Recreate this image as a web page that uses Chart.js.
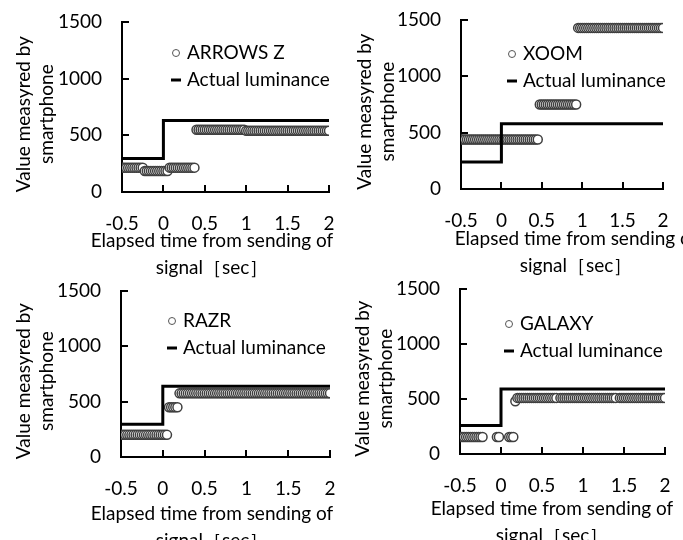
<!DOCTYPE html>
<html>
<head>
<meta charset="utf-8">
<script src="https://cdn.jsdelivr.net/npm/chart.js@4.4.0/dist/chart.umd.min.js"></script>
<style>
    html, body { margin: 0; padding: 0; background: #fff; overflow: hidden; }
    canvas { position: absolute; }
</style>
</head>
<body>
<canvas id="c1"></canvas>
<canvas id="c2"></canvas>
<canvas id="c3"></canvas>
<canvas id="c4"></canvas>
<script>
// Sample times (sec), shared by all four phones
const TIME = [
    -0.5, -0.475, -0.45, -0.425, -0.4, -0.375, -0.35, -0.325, -0.3, -0.275,
    -0.25, -0.225, -0.2, -0.175, -0.15, -0.125, -0.1, -0.075, -0.05, -0.025,
    0, 0.025, 0.05, 0.075, 0.1, 0.125, 0.15, 0.175, 0.2, 0.225,
    0.25, 0.275, 0.3, 0.325, 0.35, 0.375, 0.4, 0.425, 0.45, 0.475,
    0.5, 0.525, 0.55, 0.575, 0.6, 0.625, 0.65, 0.675, 0.7, 0.725,
    0.75, 0.775, 0.8, 0.825, 0.85, 0.875, 0.9, 0.925, 0.95, 0.975,
    1, 1.025, 1.05, 1.075, 1.1, 1.125, 1.15, 1.175, 1.2, 1.225,
    1.25, 1.275, 1.3, 1.325, 1.35, 1.375, 1.4, 1.425, 1.45, 1.475,
    1.5, 1.525, 1.55, 1.575, 1.6, 1.625, 1.65, 1.675, 1.7, 1.725,
    1.75, 1.775, 1.8, 1.825, 1.85, 1.875, 1.9, 1.925, 1.95, 1.975,
    2
];

// Values measured by each smartphone (null = no sample)
const ARROWS_Z = [
    215, 215, 215, 215, 215, 215, 215, 215, 215, 215,
    215, 185, 185, 185, 185, 185, 185, 185, 185, 185,
    185, 185, 185, 215, 215, 215, 215, 215, 215, 215,
    215, 215, 215, 215, 215, 215, 550, 550, 550, 550,
    550, 550, 550, 550, 550, 550, 550, 550, 550, 550,
    550, 550, 550, 550, 550, 550, 550, 550, 550, 550,
    540, 540, 540, 540, 540, 540, 540, 540, 540, 540,
    540, 540, 540, 540, 540, 540, 540, 540, 540, 540,
    540, 540, 540, 540, 540, 540, 540, 540, 540, 540,
    540, 540, 540, 540, 540, 540, 540, 540, 540, 540,
    540
];
const XOOM = [
    440, 440, 440, 440, 440, 440, 440, 440, 440, 440,
    440, 440, 440, 440, 440, 440, 440, 440, 440, 440,
    440, 440, 440, 440, 440, 440, 440, 440, 440, 440,
    440, 440, 440, 440, 440, 440, 440, 440, 440, 750,
    750, 750, 750, 750, 750, 750, 750, 750, 750, 750,
    750, 750, 750, 750, 750, 750, 750, 750, 1430, 1430,
    1430, 1430, 1430, 1430, 1430, 1430, 1430, 1430, 1430, 1430,
    1430, 1430, 1430, 1430, 1430, 1430, 1430, 1430, 1430, 1430,
    1430, 1430, 1430, 1430, 1430, 1430, 1430, 1430, 1430, 1430,
    1430, 1430, 1430, 1430, 1430, 1430, 1430, 1430, 1430, 1430,
    1430
];
const RAZR = [
    200, 200, 200, 200, 200, 200, 200, 200, 200, 200,
    200, 200, 200, 200, 200, 200, 200, 200, 200, 200,
    200, 200, 200, 450, 450, 450, 450, 450, 575, 575,
    575, 575, 575, 575, 575, 575, 575, 575, 575, 575,
    575, 575, 575, 575, 575, 575, 575, 575, 575, 575,
    575, 575, 575, 575, 575, 575, 575, 575, 575, 575,
    575, 575, 575, 575, 575, 575, 575, 575, 575, 575,
    575, 575, 575, 575, 575, 575, 575, 575, 575, 575,
    575, 575, 575, 575, 575, 575, 575, 575, 575, 575,
    575, 575, 575, 575, 575, 575, 575, 575, 575, 575,
    575
];
const GALAXY = [
    155, 155, 155, 155, 155, 155, 155, 155, 155, 155,
    155, 155, null, null, null, null, null, null, 155, 155,
    null, null, null, null, 155, 155, 155, 480, 510, 510,
    510, 510, 510, 510, 510, 510, 510, 510, 510, 510,
    510, 510, 510, 510, 510, 510, 510, 510, null, 510,
    510, 510, 510, 510, 510, 510, 510, 510, 510, 510,
    510, 510, 510, 510, 510, 510, 510, 510, 510, 510,
    510, 510, 510, 510, 510, 510, 510, null, 510, 510,
    510, 510, 510, 510, 510, 510, 510, 510, 510, 510,
    510, 510, 510, 510, 510, 510, 510, 510, 510, 510,
    510
];

// Actual luminance (step at t = 0)
const STEP_TIME = [-0.5, 0, 0, 2];
const ARROWS_Z_ACTUAL = [295, 295, 630, 630];
const XOOM_ACTUAL = [240, 240, 580, 580];
const RAZR_ACTUAL = [295, 295, 640, 640];
const GALAXY_ACTUAL = [260, 260, 590, 590];

const X_TICKS = [-0.5, 0, 0.5, 1, 1.5, 2];
const Y_TICKS = [0, 500, 1000, 1500];
const X_TITLE = ['Elapsed time from sending of', 'signal［sec］'];
const Y_TITLE = ['Value measyred by\u2003', 'smartphone\u2003'];
const LINE_LABEL = 'Actual luminance';

// Panel layout (canvas box, wanted plot area inside the canvas, title and legend spots)
const PANELS = [
    { id: 'c1', name: 'ARROWS Z', values: ARROWS_Z, actual: ARROWS_Z_ACTUAL,
      box: { left: 0, top: 0, w: 341, h: 290 }, area: { l: 122, r: 329, t: 22, b: 192 },
      xTitle: { x: 212, y: 241 }, yTitleX: 24, legend: { x: 54, y: 31 } },
    { id: 'c2', name: 'XOOM', values: XOOM, actual: XOOM_ACTUAL,
      box: { left: 341, top: 0, w: 342, h: 290 }, area: { l: 120, r: 322, t: 20, b: 189 },
      xTitle: { x: 235, y: 239 }, yTitleX: 24, legend: { x: 51, y: 34 } },
    { id: 'c3', name: 'RAZR', values: RAZR, actual: RAZR_ACTUAL,
      box: { left: 0, top: 270, w: 341, h: 290 }, area: { l: 121, r: 330, t: 21, b: 187 },
      xTitle: { x: 212, y: 244 }, yTitleX: 24, legend: { x: 51, y: 30 } },
    { id: 'c4', name: 'GALAXY', values: GALAXY, actual: GALAXY_ACTUAL,
      box: { left: 341, top: 270, w: 342, h: 290 }, area: { l: 119, r: 324, t: 19, b: 184 },
      xTitle: { x: 211, y: 239 }, yTitleX: 22, legend: { x: 49, y: 35 } }
];

const FONT = 'Lato, "Liberation Sans", sans-serif';
Chart.defaults.font.family = FONT;
Chart.defaults.font.size = 19;
Chart.defaults.color = '#000';

// Legend inside the plot and the two-line x title (wider than the plot, so not squeezed)
const panelText = {
    id: 'panelText',
    afterDraw(chart, args, opts) {
        const { ctx, chartArea } = chart;
        const x = chartArea.left + opts.legend.x;
        const y = chartArea.top + opts.legend.y;
        const sets = chart.data.datasets;
        ctx.save();
        ctx.beginPath();
        ctx.arc(x, y, 3.5, 0, Math.PI * 2);
        ctx.fillStyle = '#fff';
        ctx.fill();
        ctx.strokeStyle = '#555';
        ctx.lineWidth = 1;
        ctx.stroke();
        ctx.beginPath();
        ctx.moveTo(x - 5, y + 27);
        ctx.lineTo(x + 5, y + 27);
        ctx.strokeStyle = '#000';
        ctx.lineWidth = 3;
        ctx.stroke();
        ctx.font = '19px ' + FONT;
        ctx.fillStyle = '#000';
        ctx.textBaseline = 'middle';
        ctx.textAlign = 'left';
        ctx.fillText(sets[0].label, x + 11, y);
        ctx.fillText(sets[1].label, x + 11, y + 27);

        ctx.textAlign = 'center';
        X_TITLE.forEach((line, i) => ctx.fillText(line, opts.xTitle.x, opts.xTitle.y + i * 27));
        ctx.restore();
    }
};

function noPad(s) {
    s.paddingTop = 0;
    s.paddingBottom = 0;
    s.paddingLeft = 0;
    s.paddingRight = 0;
}

function buildPanel(p) {
    const canvas = document.getElementById(p.id);
    canvas.width = p.box.w;
    canvas.height = p.box.h;
    canvas.style.left = p.box.left + 'px';
    canvas.style.top = p.box.top + 'px';

    const points = [];
    TIME.forEach((t, i) => {
        if (p.values[i] !== null) points.push({ x: t, y: p.values[i] });
    });
    const step = STEP_TIME.map((t, i) => ({ x: t, y: p.actual[i] }));

    const chart = new Chart(canvas.getContext('2d'), {
        type: 'scatter',
        data: {
            datasets: [{
                label: p.name,
                data: points,
                pointRadius: 4.5,
                pointBackgroundColor: '#fff',
                pointBorderColor: '#3f3f3f',
                pointBorderWidth: 1.5,
                order: 1
            }, {
                label: LINE_LABEL,
                data: step,
                showLine: true,
                borderColor: '#000',
                borderWidth: 3,
                pointRadius: 0,
                tension: 0,
                borderJoinStyle: 'miter',
                order: 0
            }]
        },
        options: {
            responsive: false,
            animation: false,
            layout: {
                padding: { left: 0, top: p.area.t, right: p.box.w - p.area.r, bottom: 0 }
            },
            plugins: {
                legend: { display: false },
                tooltip: { enabled: false },
                panelText: { legend: p.legend, xTitle: p.xTitle }
            },
            scales: {
                x: {
                    type: 'linear',
                    min: -0.5,
                    max: 2,
                    afterBuildTicks: s => { s.ticks = X_TICKS.map(v => ({ value: v })); },
                    afterFit: s => { s.height = p.box.h - p.area.b; noPad(s); },
                    border: { color: '#000', width: 2 },
                    grid: { drawOnChartArea: false, tickLength: -7, color: '#000', lineWidth: 2 },
                    ticks: { padding: 27, maxRotation: 0, autoSkip: false, callback: v => String(v) }
                },
                y: {
                    min: 0,
                    max: 1500,
                    afterBuildTicks: s => { s.ticks = Y_TICKS.map(v => ({ value: v })); },
                    afterFit: s => { s.width = p.area.l; noPad(s); },
                    border: { color: '#000', width: 2 },
                    grid: { drawOnChartArea: false, tickLength: -7, color: '#000', lineWidth: 2 },
                    ticks: { padding: 27, autoSkip: false, callback: v => String(v) },
                    title: {
                        display: true,
                        text: Y_TITLE,
                        padding: { top: p.yTitleX - 11.5, bottom: 0 },
                        font: { size: 19, lineHeight: '23px' }
                    }
                }
            }
        },
        plugins: [panelText]
    });

    // nudge the layout padding until the plot area sits where the original has it
    for (let k = 0; k < 3; k++) {
        const a = chart.chartArea;
        const pad = chart.options.layout.padding;
        const dt = p.area.t - a.top;
        const dr = p.area.r - a.right;
        if (Math.abs(dt) < 0.5 && Math.abs(dr) < 0.5) break;
        pad.top += dt;
        pad.right -= dr;
        chart.update();
    }
}

PANELS.forEach(buildPanel);
</script>
</body>
</html>
